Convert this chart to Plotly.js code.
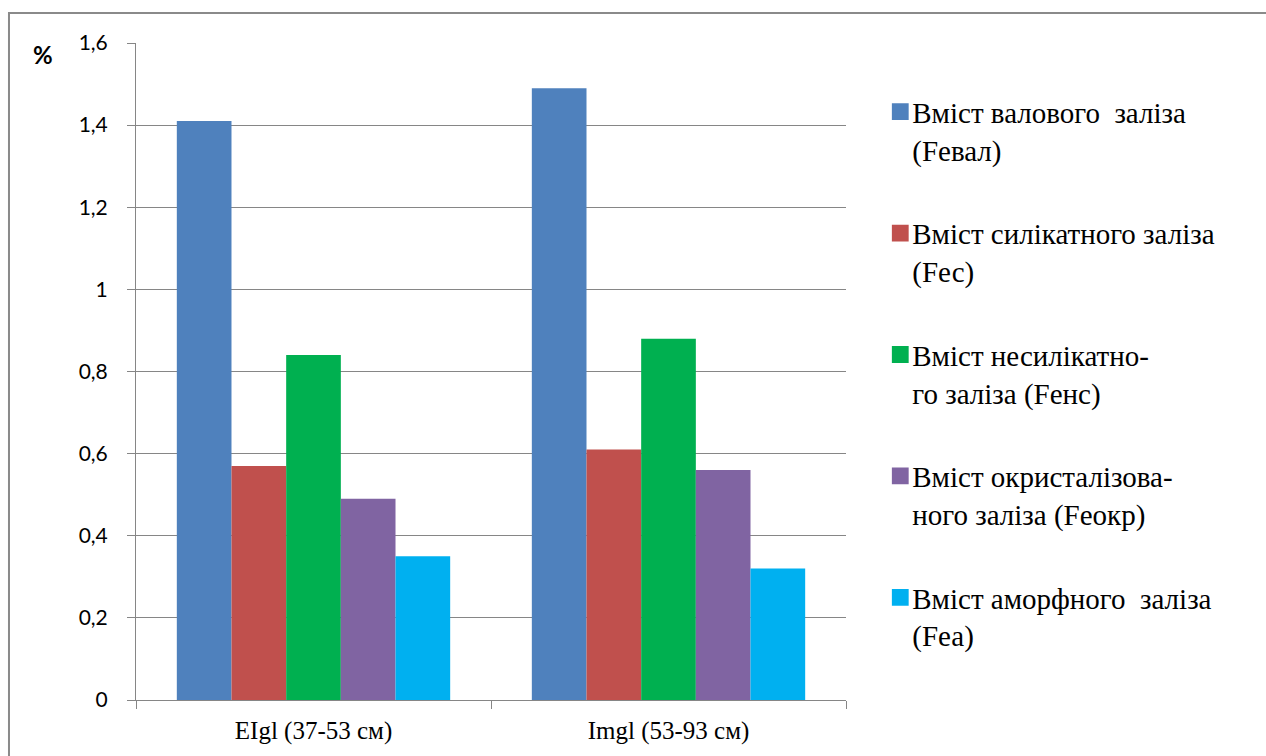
<!DOCTYPE html>
<html>
<head>
<meta charset="utf-8">
<script src="https://cdn.plot.ly/plotly-3.0.1.min.js"></script>
<style>
  html, body { margin: 0; padding: 0; background: #fff; }
  #chart { width: 1266px; height: 756px; }
  /* larger colour keys in the legend */
  #chart .legendpoints path { scale: 1.4; }
</style>
</head>
<body>
<div id="chart"></div>
<script>
// Soil horizons (x categories)
const horizons = ['EIgl (37-53 см)', 'Imgl (53-93 см)'];

// Iron forms, content in %
const seriesNames = [
  'Вміст валового\u00a0 заліза<br>(Fевал)',
  'Вміст силікатного заліза<br>(Fес)',
  'Вміст несилікатно-<br>го заліза (Fенс)',
  'Вміст окристалізова-<br>ного заліза (Fеокр)',
  'Вміст аморфного\u00a0 заліза<br>(Fеа)'
];
const feTotal       = [1.41, 1.49];
const feSilicate    = [0.57, 0.61];
const feNonSilicate = [0.84, 0.88];
const feCrystal     = [0.49, 0.56];
const feAmorphous   = [0.35, 0.32];
const seriesValues = [feTotal, feSilicate, feNonSilicate, feCrystal, feAmorphous];
const seriesColors = ['#4F81BD', '#C0504D', '#00B050', '#8064A2', '#00B0F0'];

const yTicks = [0, 0.2, 0.4, 0.6, 0.8, 1, 1.2, 1.4, 1.6];

const serif = 'Liberation Serif';
const sans = 'Lato';

const traces = seriesNames.map((name, i) => ({
  type: 'bar',
  name: name,
  x: horizons,
  y: seriesValues[i],
  legendgroup: 'g' + i,
  marker: { color: seriesColors[i], line: { width: 0 } },
  hoverinfo: 'x+y+name'
}));

const axisGrey = '#868686';

const layout = {
  width: 1266,
  height: 756,
  margin: { l: 136, r: 420, t: 43, b: 56 },
  paper_bgcolor: '#ffffff',
  plot_bgcolor: '#ffffff',
  separators: ', ',
  barmode: 'group',
  bargap: 0.23,
  bargroupgap: 0,
  showlegend: true,
  legend: {
    x: 1.037, xanchor: 'left',
    y: 0.934, yanchor: 'top',
    traceorder: 'grouped',
    tracegroupgap: 43,
    valign: 'top',
    font: { family: serif, size: 29, color: '#000' },
    bgcolor: 'rgba(0,0,0,0)'
  },
  xaxis: {
    type: 'category',
    showline: true, linecolor: axisGrey, linewidth: 1,
    ticks: 'outside', tickson: 'boundaries', ticklen: 8, tickcolor: axisGrey,
    showgrid: false,
    ticklabelstandoff: 8,
    tickfont: { family: serif, size: 25, color: '#000' },
    fixedrange: true
  },
  yaxis: {
    range: [0, 1.6],
    tickvals: yTicks,
    showline: true, linecolor: axisGrey, linewidth: 1,
    ticks: 'outside', ticklen: 8, tickcolor: axisGrey,
    showgrid: true, gridcolor: axisGrey, gridwidth: 1,
    zeroline: false,
    ticklabelstandoff: 15,
    tickfont: { family: sans, size: 21, color: '#000' },
    fixedrange: true
  },
  annotations: [{
    text: '<b>%</b>',
    xref: 'paper', yref: 'paper',
    x: -0.131, y: 0.982,
    xanchor: 'center', yanchor: 'middle',
    showarrow: false,
    font: { family: sans, size: 24, color: '#000' }
  }],
  shapes: [{
    // chart frame
    type: 'rect', xref: 'paper', yref: 'paper',
    x0: -0.1789, x1: 1.7, y0: -0.3, y1: 1.0457,
    line: { color: '#8a8a8a', width: 2 },
    fillcolor: 'rgba(0,0,0,0)',
    layer: 'below'
  }]
};

Plotly.newPlot('chart', traces, layout, { displayModeBar: false, staticPlot: true });
</script>
</body>
</html>
